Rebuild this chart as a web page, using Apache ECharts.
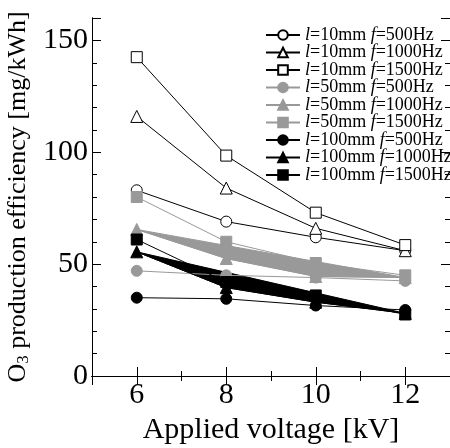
<!DOCTYPE html>
<html>
<head>
<meta charset="utf-8">
<script src="https://cdn.jsdelivr.net/npm/echarts@6/dist/echarts.min.js"></script>
<style>html,body{margin:0;padding:0;background:#fff}#c{width:450px;height:448px}</style>
</head>
<body>
<div id="c"></div>
<script>
// ---- data ----
var voltages = [6, 8, 10, 12];
var names = [
  'l=10mm f=500Hz', 'l=10mm f=1000Hz', 'l=10mm f=1500Hz',
  'l=50mm f=500Hz', 'l=50mm f=1000Hz', 'l=50mm f=1500Hz',
  'l=100mm f=500Hz', 'l=100mm f=1000Hz', 'l=100mm f=1500Hz'
];
var l10f500 = [83, 69, 62, 56];
var l10f1000 = [116, 84, 66, 56];
var l10f1500 = [142.5, 98.5, 73, 58.5];
var l50f500 = [47, 45, 44, 42.5];
var l50f1000 = [65.5, 52.5, 44.5, 44];
var l50f1500 = [80, 60, 50.5, 45];
var l100f500 = [35, 34.5, 31.5, 29.5];
var l100f1000 = [55.5, 39.5, 33, 28];
var l100f1500 = [61, 42, 36, 27.5];
var yMajorTicks = [0, 50, 100, 150];
var xMajorTicks = [6, 8, 10, 12];

var FONT = "'Liberation Serif', 'DejaVu Serif', serif";
var GRAY = '#999999';
var values = [l10f500, l10f1000, l10f1500, l50f500, l50f1000, l50f1500, l100f500, l100f1000, l100f1500];
var symbols = ['circle', 'triangle', 'rect', 'circle', 'triangle', 'rect', 'circle', 'triangle', 'rect'];
var fills = ['#fff', '#fff', '#fff', GRAY, GRAY, GRAY, '#000', '#000', '#000'];
var lines = ['#000', '#000', '#000', GRAY, GRAY, GRAY, '#000', '#000', '#000'];

function pairs(arr) { return voltages.map(function (x, i) { return [x, arr[i]]; }); }

var series = [];
// filled polygons (the closed outline of the f=1000Hz curves)
[[l50f1000, GRAY], [l100f1000, '#000']].forEach(function (p) {
  series.push({
    type: 'custom', name: '_fill', z: 1, silent: true,
    coordinateSystem: 'cartesian2d', xAxisIndex: 0, yAxisIndex: 0,
    data: [[voltages[0], p[0][0]]],
    renderItem: function (params, api) {
      var pts = voltages.map(function (x, i) { return api.coord([x, p[0][i]]); });
      return { type: 'polygon', shape: { points: pts }, style: { fill: p[1], stroke: p[1], lineWidth: 1 } };
    }
  });
});
names.forEach(function (n, k) {
  series.push({
    type: 'line', name: n, z: 2 + k,
    xAxisIndex: 0, yAxisIndex: 0,
    data: pairs(values[k]),
    symbol: symbols[k], symbolSize: symbols[k] === 'triangle' ? 12 : 11,
    lineStyle: { color: lines[k], width: 1 },
    itemStyle: { color: fills[k], borderColor: fills[k] === '#fff' ? '#000' : fills[k], borderWidth: 1, opacity: 1 },
    emphasis: { disabled: true }
  });
});

var axisLineStyle = { show: true, lineStyle: { color: '#000', width: 1 } };
function xAx(pos, interval, len, labels) {
  var a = {
    type: 'value', position: pos, min: 5, max: 13, gridIndex: 0,
    axisLine: axisLineStyle, splitLine: { show: false },
    axisTick: { show: true, inside: true, length: len, lineStyle: { color: '#000', width: 1 } },
    axisLabel: { show: false }
  };
  if (interval) a.interval = interval; else a.splitNumber = 4;
  if (labels) {
    a.axisLabel = {
      show: true, margin: 4, color: '#000', fontSize: 30, fontFamily: FONT,
      formatter: function (v) { return xMajorTicks.indexOf(v) >= 0 ? String(v) : ''; }
    };
    a.name = 'Applied voltage [kV]';
    a.nameLocation = 'middle';
    a.nameGap = 37;
    a.nameTextStyle = { color: '#000', fontSize: 30, fontFamily: FONT };
  }
  return a;
}
function yAx(pos, interval, len, labels) {
  var a = {
    type: 'value', position: pos, min: 0, max: 160, interval: interval, gridIndex: 0,
    axisLine: axisLineStyle, splitLine: { show: false },
    axisTick: { show: true, inside: true, length: len, lineStyle: { color: '#000', width: 1 } },
    axisLabel: { show: false }
  };
  if (labels) {
    a.axisLabel = {
      show: true, margin: 4, color: '#000', fontSize: 30, fontFamily: FONT,
      formatter: function (v) { return yMajorTicks.indexOf(v) >= 0 ? String(v) : ''; }
    };
    a.name = 'O{sub|3} production efficiency [mg/kWh]';
    a.nameLocation = 'middle';
    a.nameGap = 52;
    a.nameTextStyle = {
      color: '#000', fontSize: 26, fontFamily: FONT,
      rich: { sub: { fontSize: 17, fontFamily: FONT, color: '#000', verticalAlign: 'bottom', padding: [11, 0, 0, 0] } }
    };
  }
  return a;
}

var chart = echarts.init(document.getElementById('c'), null, { renderer: 'canvas' });
chart.setOption({
  animation: false,
  backgroundColor: '#fff',
  grid: { left: 92, right: 0, top: 18, bottom: 72, containLabel: false, outerBoundsMode: 'none' },
  xAxis: [
    xAx('bottom', 1, 5, true),
    xAx('bottom', null, 9, false),
    xAx('top', 1, 5, false),
    xAx('top', null, 9, false)
  ],
  yAxis: [
    yAx('left', 10, 5, true),
    yAx('left', 50, 9, false),
    yAx('right', 10, 5, false),
    yAx('right', 50, 9, false)
  ],
  legend: {
    data: names, orient: 'vertical', left: 265, top: 26, padding: 0,
    itemWidth: 34, itemHeight: 12, itemGap: -0.5,
    selectedMode: false,
    textStyle: {
      color: '#000', fontSize: 18, fontFamily: FONT, lineHeight: 17,
      rich: { i: { fontStyle: 'italic', fontSize: 18, fontFamily: FONT, color: '#000', lineHeight: 17 } }
    },
    formatter: function (n) { return n.replace(/^l/, '{i|l}').replace(' f', ' {i|f}'); }
  },
  series: series
});
</script>
</body>
</html>
